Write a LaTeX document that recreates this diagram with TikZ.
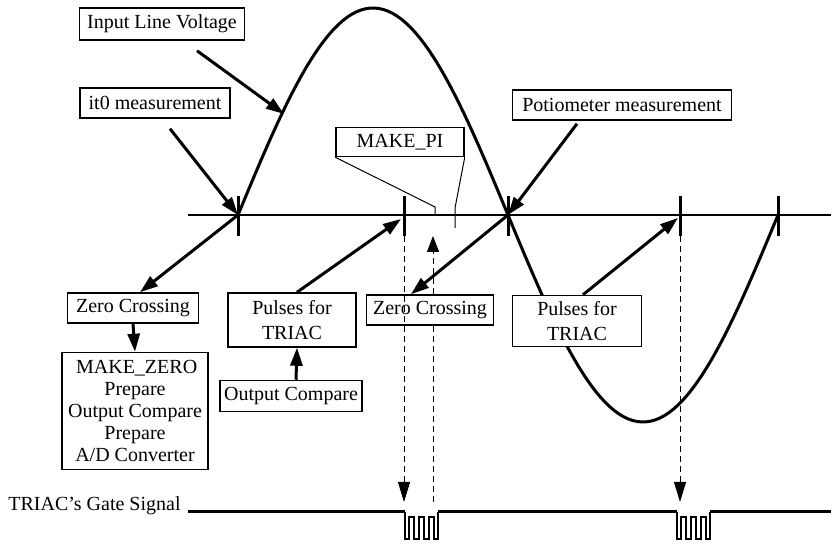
\documentclass[tikz,border=0pt]{standalone}
\usepackage{fontspec}
\setmainfont{Liberation Serif}
\usetikzlibrary{arrows.meta,calc}
\begin{document}
\begin{tikzpicture}[x=0.5pt, y=-0.5pt,
  caja/.style={draw, fill=white, line width=0.75pt, inner sep=0pt,
               font=\fontsize{10}{12.5}\selectfont, align=center},
  flecha/.style={line width=1.5pt, -{Triangle[length=9pt,width=6pt]}},
  guia/.style={line width=0.5pt, dash pattern=on 3pt off 2pt},
  pulso/.style={line width=1pt, line join=miter}]
  \useasboundingbox (0,0) rectangle (831,544);
  % ── eje y marcas ──
  \draw[line width=0.6pt] (188,215) -- (831,215);
  \foreach \t in {238,404,508,680,778} { \draw[line width=1.5pt] (\t,196) -- (\t,236); }
  \coordinate (cz1) at (238,215);
  \coordinate (cz2) at (508,215);
  \coordinate (tk1) at (404,215);
  \coordinate (tk2) at (680,215);
  \coordinate (vhit) at (284,114);
  % ── tension de linea ──
  \draw[line width=1.5pt] plot[domain=238:778, samples=120] (\x, {215-207*sin((\x-238)/270*180)});
  % ── leader de MAKE_PI ──
  \node[caja, minimum width=64pt, minimum height=14.5pt] (makepi) at (400,142) {MAKE\_PI};
  \draw[line width=0.5pt] (makepi.south west) -- (435,207) -- (435,216);
  \draw[line width=0.5pt] (makepi.south east) -- (455,208) -- (455,228);
  % ── cajas ──
  \node[caja, minimum width=82.5pt, minimum height=16pt] (volt) at (162,24) {Input Line Voltage};
  \node[caja, minimum width=75pt, minimum height=15pt] (itz) at (155,103) {it0 measurement};
  \node[caja, minimum width=109.5pt, minimum height=15pt] (poti) at (622,105) {Potiometer measurement};
  \node[caja, minimum width=65.5pt, minimum height=15pt] (zc1) at (133,308) {Zero Crossing};
  \node[caja, minimum width=64pt, minimum height=27pt] (pulse1) at (292,320) {Pulses for\\TRIAC};
  \node[caja, minimum width=63.5pt, minimum height=15pt] (zc2) at (430,310) {Zero Crossing};
  \node[caja, minimum width=64.5pt, minimum height=25.5pt] (pulse2) at (577,321) {Pulses for\\TRIAC};
  \node[caja, minimum width=71pt, minimum height=15.5pt] (outcmp) at (291,396) {Output Compare};
  \node[caja, minimum width=73pt, minimum height=58.5pt, font=\fontsize{10}{11}\selectfont] (mkzero) at (135,411)
    {\,MAKE\_ZERO\\Prepare\\Output Compare\\Prepare\\A/D Converter};
  % ── flechas ──
  \draw[flecha] ($(volt.south)+(35,10)$) -- (vhit);
  \draw[flecha] ($(itz.south)+(15,10)$) -- (cz1);
  \draw[flecha] ($(poti.south)+(-45,3)$) -- (cz2);
  \draw[flecha] (cz1) -- ($(zc1.north)+(7,0)$);
  \draw[flecha] (cz2) -- ($(zc2.north)+(-19,0)$);
  \draw[flecha] ($(pulse1.north)+(5,0)$) -- ($(tk1)+(-3,4)$);
  \draw[flecha] ($(pulse2.north)+(6,0)$) -- ($(tk2)+(-2,3)$);
  \draw[flecha] ($(outcmp.north)+(5,0)$) -- ($(pulse1.south)+(5,0)$);
  \draw[flecha] (zc1.south) -- (mkzero.north);
  % ── guias discontinuas ──
  \draw[guia, -{Triangle[length=8pt,width=6pt]}] ($(zc2.north)+(3,0)$) -- (433,236);
  \draw[guia] ($(zc2.south)+(3,0)$) -- (433,505);
  \draw[guia, -{Triangle[length=10pt,width=6pt]}] (404,236) -- (404,502);
  \draw[guia, -{Triangle[length=10pt,width=6pt]}] (680,236) -- (680,502);
  % ── senal de compuerta ──
  \node[anchor=east, inner sep=0pt, font=\fontsize{10}{12}\selectfont] (gate) at (181,506) {TRIAC’s Gate Signal};
  \draw[line width=1.5pt] (188,512) -- (405,512) (438,512) -- (677,512) (710,512) -- (831,512);
  \foreach \p in {405,677} {
    \draw[pulso] (\p,512) -- ++(0,27) -- ++(4,0) -- ++(0,-22) -- ++(5,0) -- ++(0,22) -- ++(5,0)
      -- ++(0,-22) -- ++(5,0) -- ++(0,22) -- ++(5,0) -- ++(0,-22) -- ++(5,0) -- ++(0,22)
      -- ++(4,0) -- ++(0,-27);
  }
\end{tikzpicture}
\end{document}
